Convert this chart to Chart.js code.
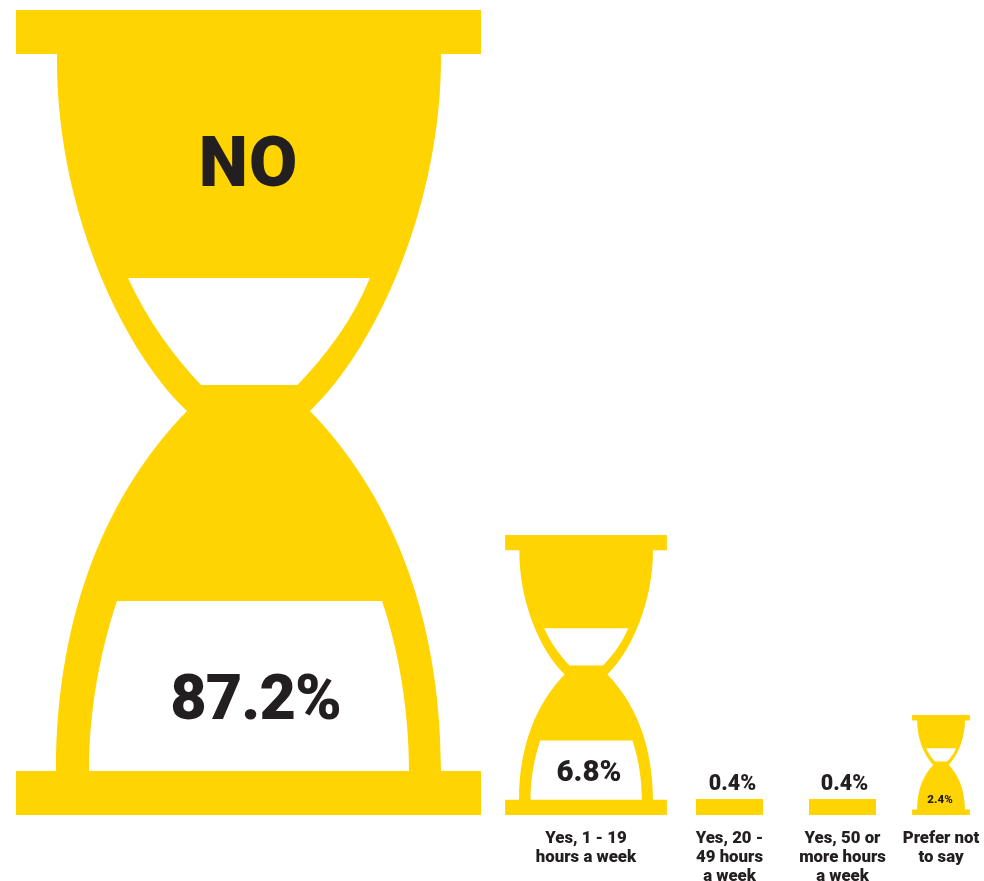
<!DOCTYPE html>
<html>
<head>
<meta charset="utf-8">
<title>Hourglass chart</title>
<script src="https://cdn.jsdelivr.net/npm/chart.js@4"></script>
<style>
  html, body { margin: 0; padding: 0; background: #fff; }
  canvas { display: block; }
</style>
</head>
<body>
<canvas id="hourglassChart" width="984" height="881"></canvas>
<script>
// Chart data
const categories = ['No', 'Yes, 1 - 19 hours a week', 'Yes, 20 - 49 hours a week', 'Yes, 50 or more hours a week', 'Prefer not to say'];
const shares = [87.2, 6.8, 0.4, 0.4, 2.4];
const glassHeights = [805, 280, 16, 16, 100];
const tickLines = [[''], ['Yes, 1 - 19', 'hours a week'], ['Yes, 20 -', '49 hours', 'a week'], ['Yes, 50 or', 'more hours', 'a week'], ['Prefer not', 'to say']];

// Layout, kept apart from the data
const slotCentres = [248.5, 586, 729.5, 842.5, 941];
const glassWidths = [465, 162, 67, 67, 58];
const lowerWindows = [true, true, false, false, false];
const labelFontSizes = [63, 29.5, 21.5, 21.5, 11.5];
const labelSpacing = ['-1px', '0px', '0px', '0px', '0px'];
const labelOffsetsX = [7, 3, 3, 2, -1];
const labelOffsetsY = [112, 41, 30, 30, 15];
const YELLOW = '#FFD400';
const INK = '#231F20';
const FONT = 'Roboto, sans-serif';

// Outline of the left half of the biggest glass: x from the centre, y from the top
const GLASS_H = 805, PLATE_H = 44;
function traceGlass(ctx, cx, top, s, lowerWindow) {
  const X = (x) => cx + x * s, Y = (y) => top + y * s;
  const curve = (a, b, c, d, e, f, m) => ctx.bezierCurveTo(X(a * m), Y(b), X(c * m), Y(d), X(e * m), Y(f));

  // outside, down the right side then up the left side
  ctx.moveTo(X(-232.5), Y(0));
  ctx.lineTo(X(232.5), Y(0));
  ctx.lineTo(X(232.5), Y(PLATE_H));
  ctx.lineTo(X(192.5), Y(PLATE_H));
  curve(-193.5, 190, -130.5, 335, -61.5, 401, -1);
  curve(-138.5, 480, -192.5, 600, -192.5, 761, -1);
  ctx.lineTo(X(232.5), Y(761));
  ctx.lineTo(X(232.5), Y(805));
  ctx.lineTo(X(-232.5), Y(805));
  ctx.lineTo(X(-232.5), Y(761));
  ctx.lineTo(X(-192.5), Y(761));
  curve(-192.5, 600, -138.5, 480, -61.5, 401, 1);
  curve(-130.5, 335, -193.5, 190, -191.5, PLATE_H, 1);
  ctx.lineTo(X(-232.5), Y(PLATE_H));
  ctx.closePath();

  // upper window
  ctx.moveTo(X(-120.5), Y(268));
  ctx.lineTo(X(121.5), Y(268));
  ctx.bezierCurveTo(X(104), Y(310), X(78), Y(345), X(49), Y(375));
  ctx.lineTo(X(-47.5), Y(375));
  ctx.bezierCurveTo(X(-76), Y(345), X(-101), Y(310), X(-120.5), Y(268));
  ctx.closePath();

  // lower window, the smallest glass is solid here
  if (lowerWindow) {
    ctx.moveTo(X(-131.5), Y(591));
    ctx.lineTo(X(133.5), Y(591));
    ctx.bezierCurveTo(X(150), Y(640), X(160.5), Y(700), X(160.5), Y(761));
    ctx.lineTo(X(-159.5), Y(761));
    ctx.bezierCurveTo(X(-159.5), Y(700), X(-148), Y(640), X(-131.5), Y(591));
    ctx.closePath();
  }
}

// Draws each bar as a glass, or only its base plate when it is too short for one
const hourglassPlugin = {
  id: 'hourglass',
  afterDatasetsDraw(chart) {
    const ctx = chart.ctx;
    chart.getDatasetMeta(0).data.forEach((bar, i) => {
      const height = bar.base - bar.y;
      const width = glassWidths[i];
      ctx.save();
      ctx.fillStyle = YELLOW;
      if (height < 50) {
        ctx.fillRect(bar.x - width / 2, bar.y, width, height);
      } else {
        ctx.beginPath();
        traceGlass(ctx, bar.x, bar.y, height / GLASS_H, lowerWindows[i]);
        ctx.fill('evenodd');
      }
      ctx.fillStyle = INK;
      ctx.textAlign = 'center';
      ctx.textBaseline = 'middle';
      ctx.letterSpacing = labelSpacing[i];
      ctx.font = '900 ' + labelFontSizes[i] + 'px ' + FONT;
      ctx.fillText(shares[i] + '%', bar.x + labelOffsetsX[i], bar.base - labelOffsetsY[i]);
      if (i === 0) {
        ctx.letterSpacing = '1px';
        ctx.font = '900 70px ' + FONT;
        ctx.fillText('NO', bar.x, bar.y + 158);
      }
      ctx.restore();
    });
  }
};

new Chart(document.getElementById('hourglassChart'), {
  type: 'bar',
  data: {
    labels: categories,
    datasets: [{
      label: 'Share of respondents',
      data: glassHeights.map((h, i) => ({ x: slotCentres[i], y: h })),
      backgroundColor: 'transparent',
      barThickness: 1
    }]
  },
  plugins: [hourglassPlugin],
  options: {
    responsive: false,
    animation: false,
    layout: { padding: 0 },
    plugins: { legend: { display: false }, tooltip: { enabled: false } },
    scales: {
      x: {
        type: 'linear',
        offset: false,
        min: 0,
        max: 984,
        grid: { display: false },
        border: { display: false },
        afterBuildTicks: (scale) => { scale.ticks = slotCentres.map((v) => ({ value: v })); },
        afterFit: (scale) => {
          scale.height = 66;
          scale.paddingLeft = 0;
          scale.paddingRight = 0;
        },
        ticks: {
          autoSkip: false,
          maxRotation: 0,
          padding: 6,
          color: INK,
          font: { family: FONT, size: 16.8, weight: 900, lineHeight: 1.13 },
          callback: (value, index) => tickLines[index]
        }
      },
      y: {
        display: false,
        min: 0,
        max: 815
      }
    }
  }
});
</script>
</body>
</html>
